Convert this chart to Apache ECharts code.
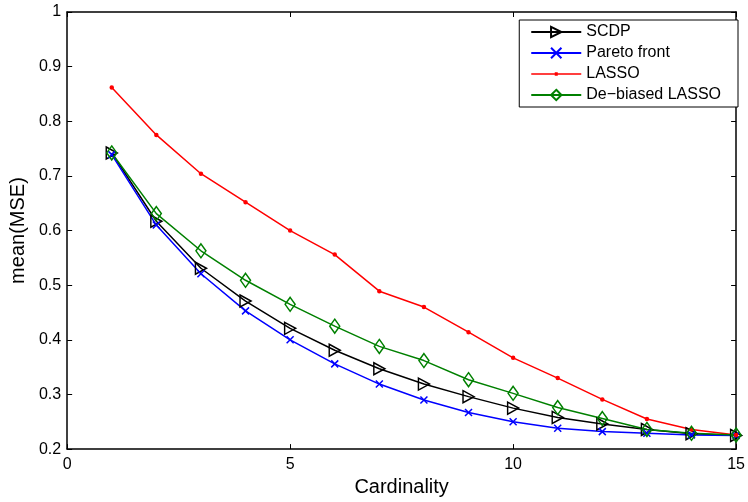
<!DOCTYPE html>
<html><head><meta charset="utf-8">
<script src="https://cdn.jsdelivr.net/npm/echarts@6/dist/echarts.min.js"></script>
<style>html,body{margin:0;padding:0;background:#fff}#c{width:748px;height:502px}</style>
</head><body><div id="c"></div>
<script>
const cardinality = [1,2,3,4,5,6,7,8,9,10,11,12,13,14,15];
const scdp = [0.742,0.617,0.531,0.471,0.421,0.381,0.347,0.319,0.296,0.275,0.258,0.246,0.236,0.228,0.225];
const pareto = [0.739,0.610,0.521,0.453,0.400,0.356,0.319,0.290,0.267,0.250,0.238,0.232,0.229,0.226,0.225];
const lasso = [0.862,0.775,0.704,0.652,0.600,0.556,0.489,0.460,0.414,0.367,0.330,0.291,0.255,0.236,0.226];
const debiased = [0.742,0.631,0.563,0.509,0.465,0.425,0.388,0.362,0.327,0.302,0.276,0.256,0.236,0.229,0.226];
const seriesNames = ['SCDP','Pareto front','LASSO','De\u2212biased LASSO'];

const font = 'Liberation Sans, Arial, Helvetica, sans-serif';
const pair = a => cardinality.map((x,i)=>[x,a[i]]);
const chart = echarts.init(document.getElementById('c'));
const tri = 'path://M0,0 L12,6 L0,12 Z';
const xmark = 'path://M0,0 L10,10 M10,0 L0,10';
function mk(name, data, color, symbol, size, fill){
  return {name, type:'line', data:pair(data), symbol, symbolSize:size, showSymbol:true,
    lineStyle:{color, width:1.5}, itemStyle:{color:fill, borderColor:color, borderWidth:1.5},
    emphasis:{disabled:true}, animation:false};
}
const axisCommon = {axisLine:{show:true,onZero:false,lineStyle:{color:'#000',width:1.5}},
  axisTick:{show:true,inside:true,length:5,lineStyle:{color:'#000',width:1}}, splitLine:{show:false}};
chart.setOption({
  animation:false,
  grid:{left:62,right:8,top:12,bottom:49,containLabel:false},
  xAxis:[
    Object.assign({type:'value',min:0,max:15,interval:5,position:'bottom',
      name:'Cardinality',nameLocation:'middle',nameGap:26,
      nameTextStyle:{fontFamily:font,fontSize:20,color:'#000'},
      axisLabel:{fontFamily:font,fontSize:16,color:'#000',margin:7}},axisCommon),
    Object.assign({type:'value',min:0,max:15,interval:5,position:'top',axisLabel:{show:false}},axisCommon)
  ],
  yAxis:[
    Object.assign({type:'value',min:0.2,max:1,interval:0.1,position:'left',
      name:'mean(MSE)',nameLocation:'middle',nameGap:37,
      nameTextStyle:{fontFamily:font,fontSize:20,color:'#000'},
      axisLabel:{fontFamily:font,fontSize:16,color:'#000',margin:6,
        formatter:v=>String(Math.round(v*10)/10)}},axisCommon),
    Object.assign({type:'value',min:0.2,max:1,interval:0.1,position:'right',axisLabel:{show:false}},axisCommon)
  ],
  legend:{orient:'vertical',right:10,top:20,
    data:[
      {name:seriesNames[0]},
      {name:seriesNames[1]},
      {name:seriesNames[2], icon:'path://M0,1 L50,1 L50,2.6 L0,2.6 Z M23.5,0 L26.5,0 L26.5,3.6 L23.5,3.6 Z', itemStyle:{color:'#ff0000',borderWidth:0}},
      {name:seriesNames[3]}
    ],
    itemWidth:50,itemHeight:13,itemGap:5,padding:[4,17,4,11],
    backgroundColor:'#fff',borderColor:'#000',borderWidth:1,
    textStyle:{fontFamily:font,fontSize:16,color:'#000'},
    selectedMode:false},
  series:[
    mk(seriesNames[0], scdp, '#000', tri, [11,12], 'rgba(255,255,255,0)'),
    mk(seriesNames[1], pareto, '#0000ff', xmark, 7, 'rgba(255,255,255,0)'),
    mk(seriesNames[2], lasso, '#ff0000', 'circle', 3, '#ff0000'),
    mk(seriesNames[3], debiased, '#008000', 'diamond', [10,14], 'rgba(255,255,255,0)')
  ]
});
</script></body></html>
